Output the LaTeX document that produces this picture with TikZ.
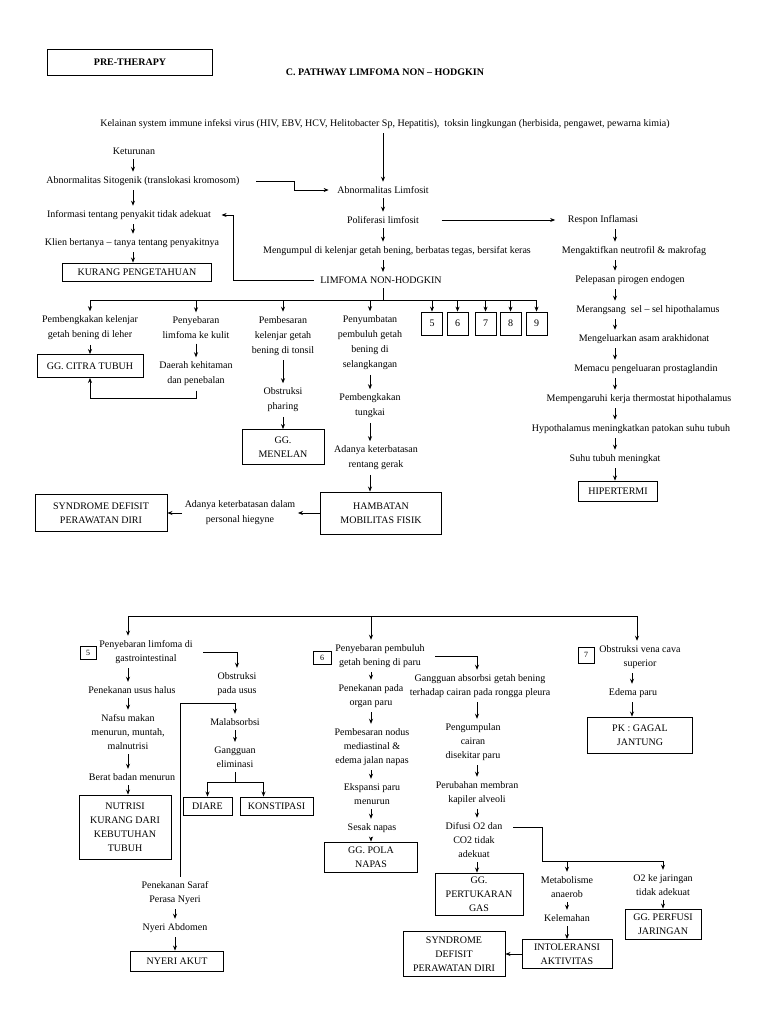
\documentclass[tikz,border=0pt]{standalone}
\usepackage{fontspec}
\setmainfont{Liberation Serif}
\usepackage{tikz}
\usetikzlibrary{arrows.meta,positioning,calc}

\begin{document}
\begin{tikzpicture}[x=1pt, y=-1pt,
    txt/.style={align=center, inner xsep=2.5pt, inner ysep=4.5pt, font=\fontsize{10}{14}\selectfont},
    cabang/.style={txt, font=\fontsize{10}{15}\selectfont},
    box/.style={rectangle, draw, line width=0.9pt, align=center, inner sep=1pt, font=\fontsize{10}{14}\selectfont},
    numbox/.style={rectangle, draw, line width=0.8pt, inner sep=0pt, minimum width=21pt, minimum height=23pt, font=\fontsize{10}{12}\selectfont},
    smallnum/.style={rectangle, draw, line width=0.8pt, inner sep=0pt, minimum width=16pt, minimum height=13pt, font=\fontsize{8}{9}\selectfont},
    arr/.style={-{Stealth[length=5pt,width=4pt]}, line width=0.7pt},
    link/.style={line width=0.7pt}]

\fill[white] (0,0) rectangle (768,1024);
\useasboundingbox (0,0) rectangle (768,1024);

\node[box, minimum width=165pt, minimum height=26pt, font=\fontsize{10}{12}\selectfont\bfseries] (pretherapy) at (130,62) {PRE-THERAPY};
\node[txt, font=\fontsize{10}{12}\selectfont\bfseries] (judul) at (385,72) {C. PATHWAY LIMFOMA NON – HODGKIN};

\node[txt] (kelainan) at (385,124) {Kelainan system immune infeksi virus (HIV, EBV, HCV, Helitobacter Sp, Hepatitis),~ toksin lingkungan (herbisida, pengawet, pewarna kimia)};

% kolom kiri
\node[txt] (keturunan) at (134,151) {Keturunan};
\node[txt] (sitogenik) at (143,181) {Abnormalitas Sitogenik (translokasi kromosom)};
\node[txt] (informasi) at (129,215) {Informasi tentang penyakit tidak adekuat};
\node[txt] (klien) at (132,243) {Klien bertanya – tanya tentang penyakitnya};
\node[box, minimum width=149pt, minimum height=18pt] (kurang) at (137,272) {KURANG PENGETAHUAN};

% kolom tengah
\node[txt] (abnlimfosit) at (383,190) {Abnormalitas Limfosit};
\node[txt] (poliferasi) at (383,220) {Poliferasi limfosit};
\node[txt] (mengumpul) at (397,251) {Mengumpul di kelenjar getah bening, berbatas tegas, bersifat keras};
\node[txt] (limfoma) at (381,280) {LIMFOMA NON-HODGKIN};

% kolom kanan
\node[txt] (respon) at (603,220) {Respon Inflamasi};
\node[txt] (neutrofil) at (634,251) {Mengaktifkan neutrofil \& makrofag};
\node[txt] (pirogen) at (630,280) {Pelepasan pirogen endogen};
\node[txt] (merangsang) at (648,310) {Merangsang~ sel – sel hipothalamus};
\node[txt] (arakhidonat) at (644,339) {Mengeluarkan asam arakhidonat};
\node[txt] (prostaglandin) at (646,369) {Memacu pengeluaran prostaglandin};
\node[txt] (thermostat) at (639,399) {Mempengaruhi kerja thermostat hipothalamus};
\node[txt] (patokan) at (631,429) {Hypothalamus meningkatkan patokan suhu tubuh};
\node[txt] (suhu) at (615,459) {Suhu tubuh meningkat};
\node[box, minimum width=79pt, minimum height=20pt] (hipertermi) at (618,491) {HIPERTERMI};

\coordinate (kolkiri) at (133,0);
\coordinate (koltengah) at (383,0);
\coordinate (kolkanan) at (615,0);

\draw[arr] (kelainan.south -| koltengah) -- (abnlimfosit.north -| koltengah);
\foreach \a/\b in {keturunan/sitogenik, sitogenik/informasi, informasi/klien, klien/kurang}
    \draw[arr] (\a.south -| kolkiri) -- (\b.north -| kolkiri);
\foreach \a/\b in {abnlimfosit/poliferasi, poliferasi/mengumpul, mengumpul/limfoma}
    \draw[arr] (\a.south -| koltengah) -- (\b.north -| koltengah);
\foreach \a/\b in {respon/neutrofil, neutrofil/pirogen, pirogen/merangsang, merangsang/arakhidonat, arakhidonat/prostaglandin, prostaglandin/thermostat, thermostat/patokan, patokan/suhu, suhu/hipertermi}
    \draw[arr] (\a.south -| kolkanan) -- (\b.north -| kolkanan);

\draw[arr] ([xshift=14pt]sitogenik.east) -- ++(38,0) |- ([xshift=-6pt]abnlimfosit.west);
\draw[arr] ([xshift=20pt]poliferasi.east) -- ([xshift=-10pt]respon.west);
\draw[arr] ([xshift=-4pt]limfoma.west) -- ++(-80,0) |- ([xshift=8pt]informasi.east);

% cabang limfoma
\node[cabang] (leher) at (90,328) {Pembengkakan kelenjar\\getah bening di leher};
\node[box, minimum width=106pt, minimum height=23pt] (citra) at (90,366) {GG. CITRA TUBUH};
\node[cabang] (kulit) at (196,328) {Penyebaran\\limfoma ke kulit};
\node[cabang] (kehitaman) at (196,374) {Daerah kehitaman\\dan penebalan};
\node[cabang] (tonsil) at (283,336) {Pembesaran\\kelenjar getah\\bening di tonsil};
\node[cabang] (pharing) at (283,400) {Obstruksi\\pharing};
\node[box, minimum width=82pt, minimum height=35pt] (menelan) at (283,447) {GG.\\MENELAN};
\node[cabang] (selangkangan) at (370,343) {Penyumbatan\\pembuluh getah\\bening di\\selangkangan};
\node[cabang] (tungkai) at (370,406) {Pembengkakan\\tungkai};
\node[cabang] (rentang) at (376,458) {Adanya keterbatasan\\rentang gerak};
\node[box, minimum width=121pt, minimum height=42pt] (hambatan) at (381,513) {HAMBATAN\\MOBILITAS FISIK};
\node[cabang] (hiegyne) at (240,513) {Adanya keterbatasan dalam\\personal hiegyne};
\node[box, minimum width=132pt, minimum height=37pt] (defisitatas) at (101,513) {SYNDROME DEFISIT\\PERAWATAN DIRI};

\foreach \n/\x in {5/432, 6/457.5, 7/485.5, 8/510.5, 9/536.5}
    \node[numbox] (no\n) at (\x,323.5) {\n};

\coordinate (bagi) at (383,300);
\draw[link] (limfoma.south -| koltengah) -- (bagi);
\draw[link] (leher |- bagi) -- (no9 |- bagi);
\foreach \n in {leher, kulit, tonsil, selangkangan, no5, no6, no7, no8, no9}
    \draw[arr] (\n |- bagi) -- (\n.north);

\draw[arr] (leher) -- (citra);
\draw[arr] (kulit) -- (kehitaman);
\draw[arr] (kehitaman.south) -- ++(0,8) -| (citra.south);
\draw[arr] (tonsil) -- (pharing);
\draw[arr] (pharing) -- (menelan);
\draw[arr] (selangkangan) -- (tungkai);
\draw[arr] (tungkai) -- (tungkai |- rentang.north);
\draw[arr] (rentang.south -| tungkai) -- (hambatan.north -| tungkai);
\draw[arr] (hambatan) -- (hiegyne);
\draw[arr] (hiegyne) -- (defisitatas);

% bagian bawah
\coordinate (bawah5) at (128,616);
\coordinate (bawah6) at (371,616);
\coordinate (bawah7) at (637,616);
\draw[link] (bawah5) -- (bawah7);

\node[smallnum] (no5b) at (88,653) {5};
\node[txt] (gastro) at (146,652) {Penyebaran limfoma di\\gastrointestinal};
\node[txt] (usushalus) at (132,690) {Penekanan usus halus};
\node[txt] (nafsu) at (128,732) {Nafsu makan\\menurun, muntah,\\malnutrisi};
\node[txt] (berat) at (132,777) {Berat badan menurun};
\node[box, minimum width=92pt, minimum height=64pt] (nutrisi) at (125,827) {NUTRISI\\KURANG DARI\\KEBUTUHAN\\TUBUH};
\coordinate (kol5) at (128,0);
\draw[arr] (bawah5) -- (bawah5 |- gastro.north);
\foreach \a/\b in {gastro/usushalus, usushalus/nafsu, nafsu/berat, berat/nutrisi}
    \draw[arr] (\a.south -| kol5) -- (\b.north -| kol5);

\node[txt] (obsusus) at (237,684) {Obstruksi\\pada usus};
\node[txt] (malabsorbsi) at (235,722) {Malabsorbsi};
\node[txt] (eliminasi) at (235,757) {Gangguan\\eliminasi};
\node[box, minimum width=49pt, minimum height=18pt] (diare) at (207.5,806) {DIARE};
\node[box, minimum width=73pt, minimum height=18pt] (konstipasi) at (276.5,806) {KONSTIPASI};
\node[txt] (saraf) at (175,893) {Penekanan Saraf\\Perasa Nyeri};
\node[txt] (abdomen) at (175,928) {Nyeri Abdomen};
\node[box, minimum width=93pt, minimum height=20pt] (nyeriakut) at (177,961) {NYERI AKUT};

\draw[arr] ([xshift=8pt]gastro.east) -| (obsusus.north);
\coordinate (simpul) at (180,703);
\draw[arr] (simpul |- saraf.north) -- (simpul) -| (malabsorbsi.north);
\draw[arr] (malabsorbsi) -- (eliminasi);
\draw[link] (eliminasi.south) -- ++(0,10) coordinate (pisah);
\draw[arr] (pisah) -| (diare.north);
\draw[arr] (pisah) -| ([xshift=-13pt]konstipasi.north);
\draw[arr] (saraf) -- (abdomen);
\draw[arr] (abdomen.south) -- (abdomen.south |- nyeriakut.north);

\node[smallnum, minimum width=18pt] (no6b) at (322,658) {6};
\node[txt] (paru) at (380,656) {Penyebaran pembuluh\\getah bening di paru};
\node[txt] (organparu) at (371,696) {Penekanan pada\\organ paru};
\node[txt] (nodus) at (372,747) {Pembesaran nodus\\mediastinal \&\\edema jalan napas};
\node[txt] (ekspansi) at (372,794) {Ekspansi paru\\menurun};
\node[txt] (sesak) at (372,828) {Sesak napas};
\node[box, minimum width=93pt, minimum height=30pt] (polanapas) at (371,857) {GG. POLA\\NAPAS};
\coordinate (kol6) at (371,0);
\draw[arr] (bawah6) -- (bawah6 |- paru.north);
\foreach \a/\b in {paru/organparu, organparu/nodus, nodus/ekspansi, ekspansi/sesak, sesak/polanapas}
    \draw[arr] (\a.south -| kol6) -- (\b.north -| kol6);

\node[txt] (absorbsi) at (480,686) {Gangguan absorbsi getah bening\\terhadap cairan pada rongga pleura};
\node[txt] (pengumpulan) at (473,742) {Pengumpulan\\cairan\\disekitar paru};
\node[txt] (membran) at (477,793) {Perubahan membran\\kapiler alveoli};
\node[txt] (difusi) at (474,840) {Difusi O2 dan\\CO2 tidak\\adekuat};
\node[box, minimum width=88pt, minimum height=42pt] (pertukaran) at (479,894) {GG.\\PERTUKARAN\\GAS};
\coordinate (kol6b) at (477,0);
\draw[arr] ([xshift=8pt]paru.east) -| (absorbsi.north -| kol6b);
\foreach \a/\b in {absorbsi/pengumpulan, pengumpulan/membran, membran/difusi, difusi/pertukaran}
    \draw[arr] (\a.south -| kol6b) -- (\b.north -| kol6b);

\node[txt] (metabolisme) at (567,887) {Metabolisme\\anaerob};
\node[txt] (kelemahan) at (567,918) {Kelemahan};
\node[box, minimum width=90pt, minimum height=29pt] (intoleransi) at (567,954) {INTOLERANSI\\AKTIVITAS};
\node[box, minimum width=102pt, minimum height=45pt] (defisitbawah) at (454,954) {SYNDROME\\DEFISIT\\PERAWATAN DIRI};
\node[txt] (o2) at (663,885) {O2 ke jaringan\\tidak adekuat};
\node[box, minimum width=76pt, minimum height=30pt] (perfusi) at (663,924) {GG. PERFUSI\\JARINGAN};
\coordinate (simpul2) at (542,861);
\draw[link] ([shift={(8pt,-10pt)}]difusi.north east) -| (simpul2);
\draw[arr] (simpul2) -| (metabolisme.north);
\draw[arr] (simpul2) -| (o2.north);
\draw[arr] (metabolisme) -- (kelemahan);
\draw[arr] (kelemahan) -- (intoleransi);
\draw[arr] (intoleransi) -- (defisitbawah);
\draw[arr] (o2) -- (perfusi);

\node[smallnum, minimum height=16pt] (no7b) at (586,655) {7};
\node[txt] (venacava) at (640,657) {Obstruksi vena cava\\superior};
\node[txt] (edema) at (633,693) {Edema paru};
\node[box, minimum width=105pt, minimum height=36pt] (gagal) at (640,735) {PK : GAGAL\\JANTUNG};
\coordinate (kol7) at (632,0);
\draw[arr] (bawah7) -- (bawah7 |- venacava.north);
\foreach \a/\b in {venacava/edema, edema/gagal}
    \draw[arr] (\a.south -| kol7) -- (\b.north -| kol7);
\end{tikzpicture}
\end{document}
